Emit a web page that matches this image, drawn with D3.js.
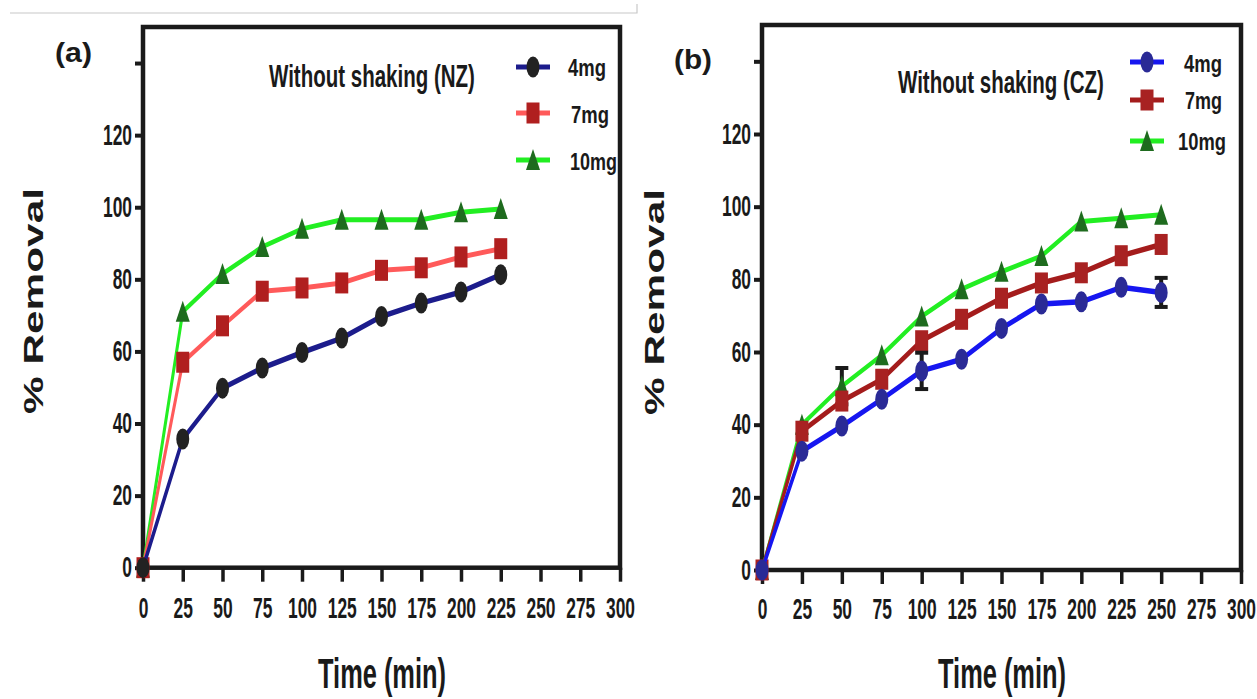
<!DOCTYPE html>
<html>
<head>
<meta charset="utf-8">
<script src="https://cdn.jsdelivr.net/npm/d3@7"></script>
<style>
  html, body { margin: 0; padding: 0; background: #ffffff; }
  svg { display: block; }
  text { font-family: "Liberation Sans", Arial, Helvetica, sans-serif; font-weight: bold; fill: #1a1a1a; }
</style>
</head>
<body>
<svg id="chart" width="1257" height="699"></svg>
<script>
// ---- data ----
const timesNZ = [0, 25, 50, 75, 100, 125, 150, 175, 200, 225];
const timesCZ = [0, 25, 50, 75, 100, 125, 150, 175, 200, 225, 250];

// % removal, natural zeolite (NZ), without shaking
const nz4mg  = [0, 35.7, 49.8, 55.4, 59.7, 63.7, 69.7, 73.4, 76.5, 81.3];
const nz7mg  = [0, 57.0, 67.1, 76.7, 77.6, 79.0, 82.5, 83.2, 86.2, 88.5];
const nz10mg = [0, 71.0, 81.5, 89.0, 94.0, 96.5, 96.5, 96.5, 98.6, 99.5];

// % removal, CZ, without shaking
const cz4mg  = [0, 32.7, 39.6, 47.0, 54.8, 58.0, 66.5, 73.2, 73.8, 77.8, 76.4];
const cz7mg  = [0, 38.2, 46.5, 52.5, 63.1, 69.0, 74.8, 79.0, 81.8, 86.5, 89.6];
const cz10mg = [0, 40.0, 50.6, 59.1, 69.8, 77.3, 82.1, 86.4, 95.9, 96.8, 97.8];

// standard deviations (only the visible ones)
const cz4mgErr  = [0, 0, 0, 0, 5, 0, 0, 0, 0, 0, 4];
const cz10mgErr = [0, 0, 5, 0, 0, 0, 0, 0, 0, 0, 0];

const doseLabels = ["4mg", "7mg", "10mg"];
const xTickValues = [0, 25, 50, 75, 100, 125, 150, 175, 200, 225, 250, 275, 300];
const yTickValues = [0, 20, 40, 60, 80, 100, 120, 140];
const yLabelMax = 120;
const xDomain = [0, 300];
const yDomain = [0, 150];

// ---- drawing ----
const SQ = 0.6;           // horizontal compression of the lettering and strokes
const INK = "#1a1a1a";
const svg = d3.select("#chart");

// thin grey rule at the top of the page
svg.append("path")
  .attr("d", "M10,13H637V4")
  .attr("fill", "none").attr("stroke", "#c8c8c8").attr("stroke-width", 1.2);

const marker = {
  circle: (g, cx, cy, fill) => g.append("ellipse").attr("cx", cx).attr("cy", cy)
    .attr("rx", 6.5).attr("ry", 10.5).attr("fill", fill),
  square: (g, cx, cy, fill) => g.append("rect").attr("x", cx - 6.5).attr("y", cy - 10.5)
    .attr("width", 13).attr("height", 21).attr("fill", fill),
  triangle: (g, cx, cy, fill) => g.append("path")
    .attr("d", `M${cx},${cy - 11}L${cx + 7},${cy + 10}L${cx - 7},${cy + 10}Z`).attr("fill", fill)
};

// text fitted to a given width by scaling it along its own direction
function fittedText(g, x, y, str, size, len, anchor, rotate) {
  const t = g.append("text").attr("x", 0).attr("y", 0)
    .attr("font-size", size)
    .attr("text-anchor", anchor || "start")
    .text(str);
  const natural = t.node().getComputedTextLength();
  const k = len / natural;
  t.attr("transform", `translate(${x},${y})${rotate ? ` rotate(${rotate})` : ""} scale(${k},1)`);
  return t;
}

function drawPanel(p) {
  const g = svg.append("g");
  const x = d3.scaleLinear().domain(xDomain).range([p.left, p.right]);
  const y = d3.scaleLinear().domain(yDomain).range([p.bottom, p.top]);
  // x scale in the compressed frame used for the connecting lines
  const xs = x.copy().range([p.left / SQ, p.right / SQ]);

  // bottom axis
  const bx = g.append("g").attr("transform", `translate(0,${p.bottom})`)
    .call(d3.axisBottom(x).tickValues(xTickValues).tickSize(14).tickPadding(p.xPad));
  bx.attr("font-size", 29).attr("font-family", null);
  bx.select(".domain").remove();
  bx.selectAll(".tick line").attr("stroke", INK).attr("stroke-width", 3.5);
  bx.selectAll(".tick text").attr("transform", `scale(${SQ},1)`).attr("fill", INK);

  // left axis
  const ly = g.append("g").attr("transform", `translate(${p.left},0)`)
    .call(d3.axisLeft(y).tickValues(yTickValues).tickSize(8).tickPadding(3)
      .tickFormat(d => d <= yLabelMax ? d : ""));
  ly.attr("font-size", 29).attr("font-family", null);
  ly.select(".domain").remove();
  ly.selectAll(".tick line").attr("stroke", INK).attr("stroke-width", 4);
  ly.selectAll(".tick text").attr("x", -11 / SQ).attr("transform", `scale(${SQ},1)`).attr("fill", INK);

  // frame
  g.append("rect").attr("x", p.left).attr("y", p.top)
    .attr("width", p.right - p.left).attr("height", p.bottom - p.top)
    .attr("fill", "none").attr("stroke", INK).attr("stroke-width", 4.5);

  // series (largest dose first so the smaller doses sit on top)
  p.series.forEach(s => {
    const line = d3.line().x((d, i) => xs(p.times[i])).y(d => y(d));
    g.append("path").datum(s.values)
      .attr("transform", `scale(${SQ},1)`)
      .attr("d", line)
      .attr("fill", "none").attr("stroke", s.line).attr("stroke-width", s.lw)
      .attr("stroke-linejoin", "round").attr("stroke-linecap", "round");

    if (s.err) {
      s.values.forEach((v, i) => {
        const e = s.err[i];
        if (!e) return;
        const cx = x(p.times[i]);
        const eb = g.append("g").attr("stroke", INK).attr("stroke-width", 4);
        eb.append("line").attr("x1", cx).attr("x2", cx).attr("y1", y(v - e)).attr("y2", y(v + e));
        eb.append("line").attr("x1", cx - 6.5).attr("x2", cx + 6.5).attr("y1", y(v + e)).attr("y2", y(v + e));
        eb.append("line").attr("x1", cx - 6.5).attr("x2", cx + 6.5).attr("y1", y(v - e)).attr("y2", y(v - e));
      });
    }

    s.values.forEach((v, i) => marker[s.shape](g, x(p.times[i]), y(v), s.fill));
  });

  // legend
  p.series.forEach(s => {
    const r = p.legend[s.label];
    g.append("line").attr("x1", p.legendX[0]).attr("x2", p.legendX[1])
      .attr("y1", r.y).attr("y2", r.y)
      .attr("stroke", s.line).attr("stroke-width", 5);
    marker[s.shape](g, (p.legendX[0] + p.legendX[1]) / 2, r.y, s.fill);
    fittedText(g, r.tx, r.tb, s.label, 24, r.tw);
  });

  // annotation, panel tag, axis titles
  fittedText(g, p.note.x, p.note.y, p.note.text, 31, p.note.w);
  fittedText(g, p.tag.x, p.tag.y, p.tag.text, 27, p.tag.w);
  fittedText(g, p.xTitle.x, p.xTitle.y, "Time (min)", 42, 128, "middle");
  fittedText(g, p.yTitle.x, p.yTitle.y, "% Removal", 28, 226, "middle", -90);
}

drawPanel({
  left: 143, right: 620, top: 27, bottom: 567.7, xPad: 16,
  times: timesNZ,
  series: [
    { label: doseLabels[2], values: nz10mg, shape: "triangle", line: "#22ee22", fill: "#1e6b1e", lw: 5 },
    { label: doseLabels[1], values: nz7mg,  shape: "square",   line: "#ff5a5a", fill: "#b01f1f", lw: 5 },
    { label: doseLabels[0], values: nz4mg,  shape: "circle",   line: "#1c1c8c", fill: "#222222", lw: 5.5 }
  ],
  legendX: [516, 550],
  legend: {
    "4mg":  { y: 67,  tx: 568, tb: 76,  tw: 38 },
    "7mg":  { y: 113, tx: 571, tb: 123, tw: 38 },
    "10mg": { y: 160, tx: 570, tb: 170, tw: 47 }
  },
  note: { text: "Without shaking (NZ)", x: 269, y: 87, w: 206 },
  tag: { text: "(a)", x: 55, y: 61.5, w: 37 },
  xTitle: { x: 382, y: 688 },
  yTitle: { x: 43, y: 301 }
});

drawPanel({
  left: 762, right: 1241, top: 25, bottom: 570, xPad: 14,
  times: timesCZ,
  series: [
    { label: doseLabels[2], values: cz10mg, err: cz10mgErr, shape: "triangle", line: "#22ee22", fill: "#1e6b1e", lw: 5 },
    { label: doseLabels[1], values: cz7mg,  shape: "square",   line: "#a41c1c", fill: "#a82222", lw: 5.5 },
    { label: doseLabels[0], values: cz4mg,  err: cz4mgErr, shape: "circle", line: "#1616f0", fill: "#2a2a96", lw: 5.5 }
  ],
  legendX: [1130, 1164],
  legend: {
    "4mg":  { y: 62,  tx: 1184, tb: 72,  tw: 38 },
    "7mg":  { y: 100, tx: 1185, tb: 109, tw: 37 },
    "10mg": { y: 141, tx: 1178, tb: 150, tw: 48 }
  },
  note: { text: "Without shaking (CZ)", x: 898, y: 93, w: 206 },
  tag: { text: "(b)", x: 674, y: 69, w: 38 },
  xTitle: { x: 1002, y: 688 },
  yTitle: { x: 664, y: 302 }
});
</script>
</body>
</html>
